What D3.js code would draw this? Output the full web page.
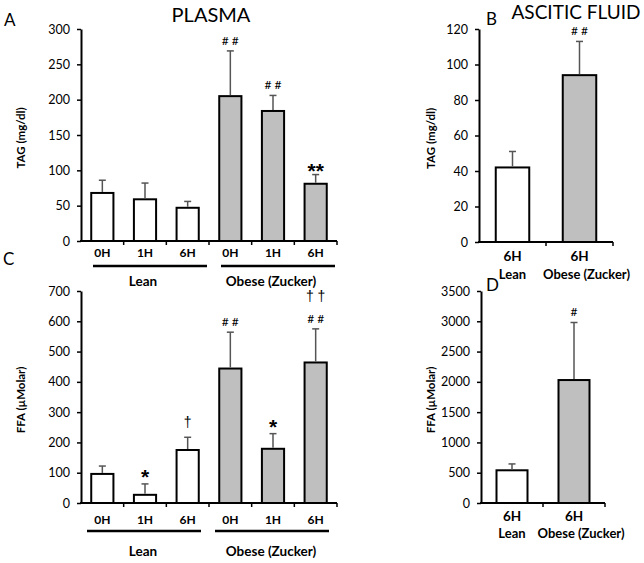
<!DOCTYPE html>
<html>
<head>
<meta charset="utf-8">
<script src="https://cdn.jsdelivr.net/npm/d3@7"></script>
<style>
  html, body { margin: 0; padding: 0; background: #fff; }
  svg { display: block; }
  text { font-family: Lato, "Open Sans", sans-serif; fill: #000; }
</style>
</head>
<body>
<svg id="chart" width="644" height="563"></svg>
<script>
// ---------------- data ----------------
const plasmaCategories = ["0H", "1H", "6H", "0H", "1H", "6H"];
const plasmaGroupOf = ["Lean", "Lean", "Lean", "Obese (Zucker)", "Obese (Zucker)", "Obese (Zucker)"];
const plasmaGroups = ["Lean", "Obese (Zucker)"];
const asciticCategories = ["6H", "6H"];
const asciticGroups = ["Lean", "Obese (Zucker)"];

const tagPlasmaMean = [68, 59, 47, 205, 184, 81];
const tagPlasmaSem = [18, 23, 9, 64, 22, 13];
const tagPlasmaMarks = [[], [], [], ["# #"], ["# #"], ["**"]];
const tagPlasmaTicks = [0, 50, 100, 150, 200, 250, 300];

const tagAsciticMean = [42, 94];
const tagAsciticSem = [9, 19];
const tagAsciticMarks = [[], ["# #"]];
const tagAsciticTicks = [0, 20, 40, 60, 80, 100, 120];

const ffaPlasmaMean = [96, 27, 175, 444, 179, 464];
const ffaPlasmaSem = [26, 36, 42, 120, 50, 111];
const ffaPlasmaMarks = [[], ["*"], ["\u2020"], ["# #"], ["*"], ["# #", "\u2020 \u2020"]];
const ffaPlasmaTicks = [0, 100, 200, 300, 400, 500, 600, 700];

const ffaAsciticMean = [540, 2030];
const ffaAsciticSem = [105, 950];
const ffaAsciticMarks = [[], ["#"]];
const ffaAsciticTicks = [0, 500, 1000, 1500, 2000, 2500, 3000, 3500];

const barFill = ["#ffffff", "#ffffff", "#ffffff", "#bfbfbf", "#bfbfbf", "#bfbfbf"];
const barFillAscitic = ["#ffffff", "#bfbfbf"];

// ---------------- drawing ----------------
const svg = d3.select("#chart");

function panel(opt) {
  const g = svg.append("g");
  const n = opt.mean.length;
  const x = d3.scaleBand().domain(d3.range(n)).range([opt.x0, opt.x1]).paddingInner(opt.pad).paddingOuter(opt.pad / 2);
  const y = d3.scaleLinear().domain([0, d3.max(opt.ticks)]).range([opt.yb, opt.yt]);

  // bars
  g.selectAll("rect.bar").data(opt.mean).join("rect")
    .attr("x", (d, i) => x(i))
    .attr("y", d => y(d))
    .attr("width", x.bandwidth())
    .attr("height", d => y(0) - y(d))
    .attr("fill", (d, i) => opt.fill[i])
    .attr("stroke", "#000")
    .attr("stroke-width", 2);

  // error bars
  const eb = g.selectAll("g.err").data(opt.mean).join("g");
  eb.append("line")
    .attr("x1", (d, i) => x(i) + x.bandwidth() / 2)
    .attr("x2", (d, i) => x(i) + x.bandwidth() / 2)
    .attr("y1", d => y(d) - 1)
    .attr("y2", (d, i) => y(d + opt.sem[i]))
    .attr("stroke", "#555").attr("stroke-width", 1.5);
  eb.append("line")
    .attr("x1", (d, i) => x(i) + x.bandwidth() / 2 - 3.5)
    .attr("x2", (d, i) => x(i) + x.bandwidth() / 2 + 3.5)
    .attr("y1", (d, i) => y(d + opt.sem[i]))
    .attr("y2", (d, i) => y(d + opt.sem[i]))
    .attr("stroke", "#555").attr("stroke-width", 1.5);

  // significance marks
  opt.marks.forEach((arr, i) => {
    const top = y(opt.mean[i] + opt.sem[i]);
    arr.forEach((s, k) => {
      const isStar = s.indexOf("*") >= 0;
      const isDagger = s.indexOf("\u2020") >= 0;
      const off = isStar ? (s.length > 1 ? -3 : 0) : (isDagger ? 10 : 6);
      g.append("text")
        .attr("x", x(i) + x.bandwidth() / 2)
        .attr("y", top - off - k * 18)
        .attr("text-anchor", "middle")
        .style("font-family", isStar || isDagger ? "'Liberation Sans', Arial, sans-serif" : "Lato, sans-serif")
        .style("fill", "#000")
        .attr("font-size", isStar ? 21 : (isDagger ? 14 : 12))
        .attr("font-weight", isStar ? "bold" : "normal")
        .text(s);
    });
  });

  // y axis
  const ya = g.append("g").attr("transform", `translate(${opt.x0},0)`)
    .call(d3.axisLeft(y).tickValues(opt.ticks).tickFormat(d3.format("d")).tickSize(4).tickPadding(7).tickSizeOuter(0));
  ya.select(".domain").attr("stroke", "#000").attr("stroke-width", 2);
  ya.selectAll(".tick line").attr("stroke", "#000").attr("stroke-width", 1.5);
  ya.selectAll(".tick text").attr("font-family", "Lato, sans-serif").attr("font-size", 12.5).attr("fill", "#000");

  // x axis line + boundary ticks
  g.append("line").attr("x1", opt.x0 - 1).attr("x2", opt.x1).attr("y1", y(0)).attr("y2", y(0))
    .attr("stroke", "#000").attr("stroke-width", 2);
  const bounds = d3.range(1, n + 1).map(i => opt.x0 + (opt.x1 - opt.x0) * i / n);
  g.selectAll("line.xt").data(bounds).join("line")
    .attr("x1", d => d).attr("x2", d => d)
    .attr("y1", y(0)).attr("y2", y(0) + 4)
    .attr("stroke", "#000").attr("stroke-width", 1.5);

  // category labels
  g.selectAll("text.cat").data(opt.cats).join("text")
    .attr("x", (d, i) => x(i) + x.bandwidth() / 2)
    .attr("y", y(0) + opt.catDy)
    .attr("text-anchor", "middle")
    .attr("font-size", opt.catSize)
    .attr("font-weight", "bold")
    .text(d => d);

  // y title
  g.append("text")
    .attr("transform", `translate(${opt.titleX},${(opt.yb + opt.yt) / 2 + 3}) rotate(-90)`)
    .attr("text-anchor", "middle")
    .attr("dominant-baseline", "central")
    .attr("font-size", 11.5)
    .attr("font-weight", "bold")
    .text(opt.ytitle);

  return { x, y, g };
}

function groupUnder(p, opt, groups, groupOf) {
  groups.forEach(gr => {
    const idx = d3.range(groupOf.length).filter(i => groupOf[i] === gr);
    const left = p.x(idx[0]) - p.x.step() * p.x.paddingInner() / 2;
    const right = p.x(idx[idx.length - 1]) + p.x.bandwidth() + p.x.step() * p.x.paddingInner() / 2;
    const base = p.y(0);
    p.g.append("line")
      .attr("x1", left + opt.lineInsetL).attr("x2", right - opt.lineInsetR)
      .attr("y1", base + opt.lineDy).attr("y2", base + opt.lineDy)
      .attr("stroke", "#000").attr("stroke-width", 2.5);
    p.g.append("text")
      .attr("x", (left + right) / 2 - 2)
      .attr("y", base + opt.labelDy)
      .attr("text-anchor", "middle")
      .attr("font-size", 13.5)
      .attr("font-weight", "bold")
      .text(gr);
  });
}

// Panel A
const pA = panel({ mean: tagPlasmaMean, sem: tagPlasmaSem, marks: tagPlasmaMarks, ticks: tagPlasmaTicks,
  fill: barFill, cats: plasmaCategories, x0: 81, x1: 337, yt: 29, yb: 241, pad: 0.48,
  catDy: 16, catSize: 12, titleX: 20, ytitle: "TAG (mg/dl)" });
groupUnder(pA, { lineDy: 25, labelDy: 45, lineInsetL: 12, lineInsetR: 2 }, plasmaGroups, plasmaGroupOf);

// Panel B
const pB = panel({ mean: tagAsciticMean, sem: tagAsciticSem, marks: tagAsciticMarks, ticks: tagAsciticTicks,
  fill: barFillAscitic, cats: asciticCategories, x0: 479, x1: 613, yt: 29, yb: 242, pad: 0.5,
  catDy: 19, catSize: 13.5, titleX: 430, ytitle: "TAG (mg/dl)" });
pB.g.selectAll("text.grp").data(asciticGroups).join("text")
  .attr("x", (d, i) => pB.x(i) + pB.x.bandwidth() / 2 + (i ? 7 : 0))
  .attr("y", pB.y(0) + 37)
  .attr("text-anchor", "middle").attr("font-size", 13).attr("font-weight", "bold")
  .text(d => d);

// Panel C
const pC = panel({ mean: ffaPlasmaMean, sem: ffaPlasmaSem, marks: ffaPlasmaMarks, ticks: ffaPlasmaTicks,
  fill: barFill, cats: plasmaCategories, x0: 81, x1: 337, yt: 291, yb: 503, pad: 0.48,
  catDy: 21, catSize: 12, titleX: 20, ytitle: "FFA (\u00b5Molar)" });
groupUnder(pC, { lineDy: 28, labelDy: 53, lineInsetL: 6, lineInsetR: 8 }, plasmaGroups, plasmaGroupOf);

// Panel D
const pD = panel({ mean: ffaAsciticMean, sem: ffaAsciticSem, marks: ffaAsciticMarks, ticks: ffaAsciticTicks,
  fill: barFillAscitic, cats: asciticCategories, x0: 481, x1: 605, yt: 291, yb: 503, pad: 0.5,
  catDy: 18, catSize: 13.5, titleX: 430, ytitle: "FFA (\u00b5Molar)" });
pD.g.selectAll("text.grp").data(asciticGroups).join("text")
  .attr("x", (d, i) => pD.x(i) + pD.x.bandwidth() / 2 + (i ? 7 : 0))
  .attr("y", pD.y(0) + 35)
  .attr("text-anchor", "middle").attr("font-size", 13).attr("font-weight", "bold")
  .text(d => d);

// Titles and panel letters
svg.append("text").attr("x", 211).attr("y", 22).attr("text-anchor", "middle").attr("font-size", 20).text("PLASMA");
svg.append("text").attr("x", 576).attr("y", 19).attr("text-anchor", "middle").attr("font-size", 19).text("ASCITIC FLUID");
const letters = [["A", 4, 26], ["B", 486, 25], ["C", 3, 265], ["D", 486, 291]];
letters.forEach(([t, lx, ly]) => svg.append("text").attr("x", lx).attr("y", ly)
  .attr("font-family", "'Liberation Sans', Arial, sans-serif").attr("font-size", 17).text(t));
</script>
</body>
</html>
